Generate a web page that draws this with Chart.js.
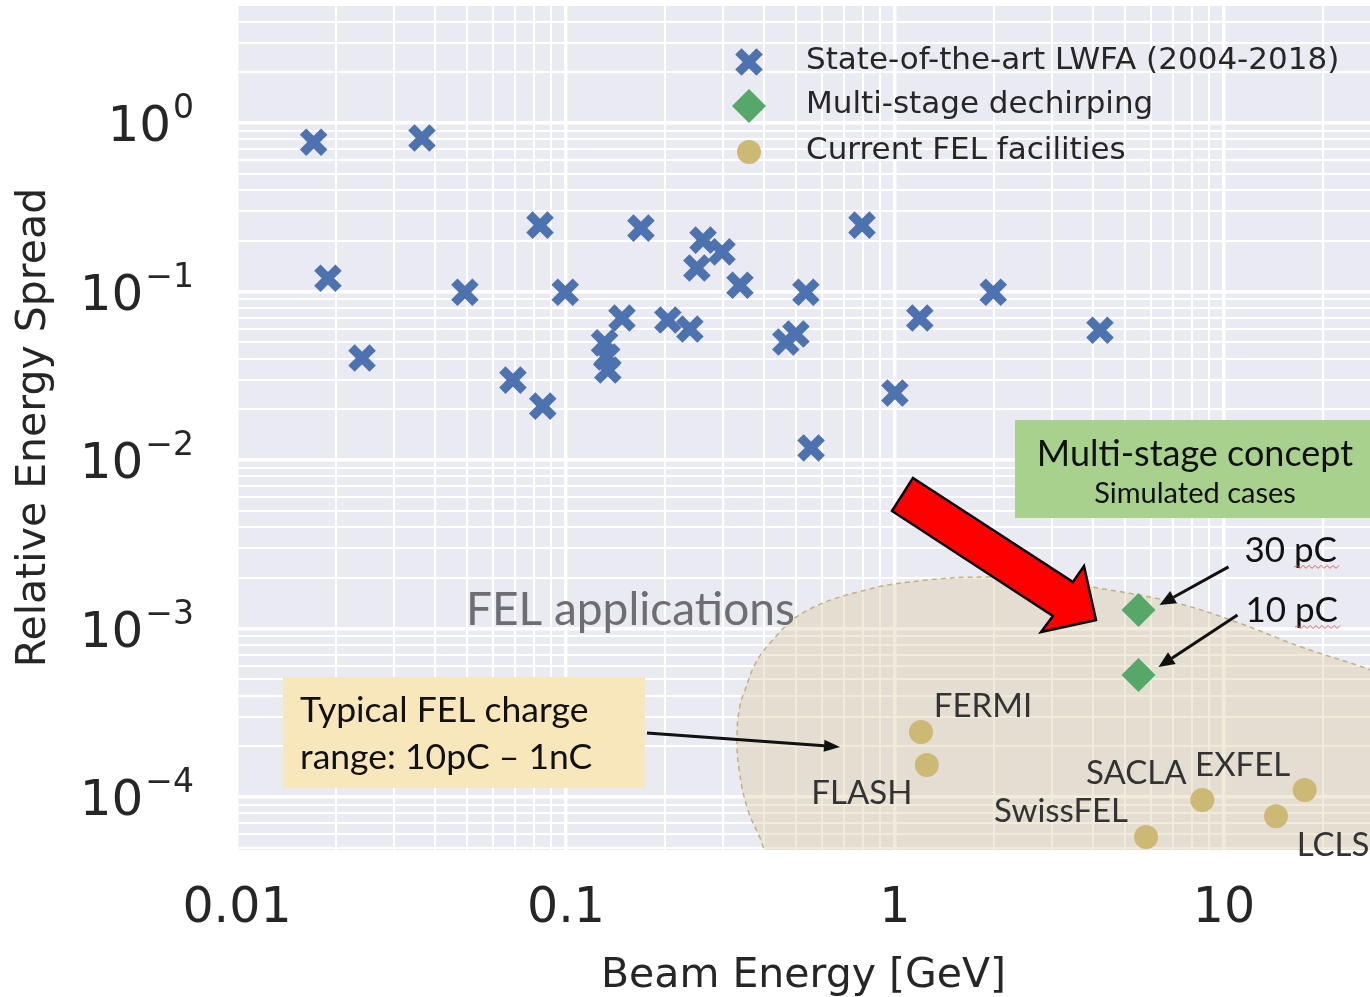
<!DOCTYPE html>
<html>
<head>
<meta charset="utf-8">
<title>Energy spread vs beam energy</title>
<script src="https://cdn.jsdelivr.net/npm/chart.js@4.4.1/dist/chart.umd.min.js"></script>
<style>
  html, body { margin: 0; padding: 0; background: #fff; }
  #wrap { width: 1370px; height: 997px; }
</style>
</head>
<body>
<div id="wrap"><canvas id="chart" width="1370" height="997"></canvas></div>
<script>
// LWFA results 2004-2018: beam energy [GeV] and relative energy spread
const lwfaEnergy = [0.0171, 0.0365, 0.0189, 0.0240, 0.0493, 0.0834, 0.0995, 0.069, 0.085,
                    0.131, 0.133, 0.134, 0.148, 0.169, 0.204, 0.238, 0.250, 0.261, 0.298,
                    0.338, 0.466, 0.500, 0.536, 0.556, 0.794, 1.00, 1.19, 1.99, 4.20];
const lwfaSpread = [0.77, 0.815, 0.120, 0.0403, 0.099, 0.248, 0.099, 0.0298, 0.0209,
                    0.0496, 0.0409, 0.0342, 0.0696, 0.238, 0.0678, 0.0599, 0.138, 0.202, 0.172,
                    0.109, 0.0502, 0.056, 0.099, 0.0118, 0.248, 0.025, 0.0696, 0.099, 0.059];

// multi-stage dechirping simulations
const dechirpEnergy = [5.5, 5.5];
const dechirpSpread = [1.29e-3, 5.3e-4];
const dechirpCharge = ['30 pC', '10 pC'];

// operating FEL facilities
const felNames  = ['FERMI', 'FLASH', 'SACLA', 'SwissFEL', 'EXFEL', 'LCLS'];
const felEnergy = [1.20, 1.25, 8.6, 5.8, 17.6, 14.4];
const felSpread = [2.43e-4, 1.55e-4, 9.6e-5, 5.8e-5, 1.10e-4, 7.7e-5];

// outline of the FEL application region (closed below the axes)
const regionEnergy = [0.42, 0.40, 0.357, 0.336, 0.331, 0.338, 0.350, 0.375, 0.417, 0.525, 0.81,
                      1.25, 1.88, 2.76, 4.0, 7.15, 11.1, 17.1, 27.8, 48, 48, 0.42];
const regionSpread = [2.4e-5, 4.85e-5, 8.4e-5, 1.45e-4, 2.33e-4, 3.5e-4, 4.3e-4, 6.1e-4, 8.2e-4,
                      1.24e-3, 1.69e-3, 1.94e-3, 2.02e-3, 1.94e-3, 1.76e-3, 1.42e-3, 1.08e-3,
                      7.8e-4, 5.7e-4, 3.8e-4, 2.4e-5, 2.4e-5];

const xTickValues = [0.01, 0.1, 1, 10];
const xTickLabels = ['0.01', '0.1', '1', '10'];
const yTickExponents = [0, -1, -2, -3, -4];

const BLUE = '#4c72b0', GREEN = '#55a868', GOLD = '#ccb974';
const TEXT = '#262626';
const CALIBRI = 'Lato, "Open Sans", sans-serif';

const pairs = (xs, ys) => xs.map((x, i) => ({ x, y: ys[i] }));

const isDecade = v => Math.abs(Math.log10(v) - Math.round(Math.log10(v))) < 1e-9;

// 1..9 x 10^n ticks so every minor grid line shows up
function logTicks(min, max) {
    const out = [];
    for (let e = Math.floor(Math.log10(min)); e <= Math.ceil(Math.log10(max)); e++) {
        for (let k = 1; k < 10; k++) {
            const v = parseFloat((k * Math.pow(10, e)).toPrecision(6));
            if (v >= min && v <= max) out.push({ value: v });
        }
    }
    return out;
}

// keep the plot box fixed, no extra room for tick labels
function noPadding(s) {
    s.paddingLeft = s.paddingRight = s.paddingTop = s.paddingBottom = 0;
}

function arrow(ctx, x1, y1, x2, y2, len, half) {
    const a = Math.atan2(y2 - y1, x2 - x1);
    const bx = x2 - Math.cos(a) * len, by = y2 - Math.sin(a) * len;
    ctx.beginPath();
    ctx.moveTo(x1, y1);
    ctx.lineTo(bx, by);
    ctx.stroke();
    ctx.beginPath();
    ctx.moveTo(x2, y2);
    ctx.lineTo(bx + Math.sin(a) * half, by - Math.cos(a) * half);
    ctx.lineTo(bx - Math.sin(a) * half, by + Math.cos(a) * half);
    ctx.closePath();
    ctx.fill();
}

function squiggle(ctx, x1, x2, y) {
    ctx.beginPath();
    ctx.moveTo(x1, y);
    for (let x = x1, up = true; x < x2; x += 3, up = !up) ctx.lineTo(x + 3, y + (up ? -1.5 : 1.5));
    ctx.stroke();
}

// plot background
const background = {
    id: 'background',
    beforeDraw(chart) {
        const { ctx, chartArea: a } = chart;
        ctx.save();
        ctx.fillStyle = '#fff';
        ctx.fillRect(0, 0, chart.width, chart.height);
        ctx.fillStyle = '#eaeaf2';
        ctx.fillRect(a.left, a.top, a.right - a.left, a.bottom - a.top);
        ctx.restore();
    }
};

// 10^n labels with raised exponents
const yLabels = {
    id: 'yLabels',
    afterDraw(chart) {
        const { ctx } = chart;
        const y = chart.scales.y;
        ctx.save();
        ctx.fillStyle = TEXT;
        ctx.textAlign = 'right';
        ctx.textBaseline = 'alphabetic';
        yTickExponents.forEach(e => {
            const py = y.getPixelForValue(Math.pow(10, e));
            const sup = e === 0 ? '0' : '\u2212' + Math.abs(e);
            ctx.font = '33px "DejaVu Sans"';
            const w = ctx.measureText(sup).width;
            ctx.fillText(sup, 194, py - 5);
            ctx.font = '50px "DejaVu Sans"';
            ctx.fillText('10', 192 - w, py + 18);
        });
        ctx.restore();
    }
};

// legend in the upper right of the plot
const legendBox = {
    id: 'legendBox',
    afterDraw(chart) {
        const { ctx } = chart;
        const rows = [62, 106, 152];
        ctx.save();
        chart.data.datasets.slice(0, 3).forEach((ds, i) => {
            ctx.fillStyle = ds.backgroundColor;
            ctx.strokeStyle = ds.borderColor || ds.backgroundColor;
            ctx.lineWidth = ds.pointBorderWidth;
            Chart.helpers.drawPoint(ctx, {
                pointStyle: ds.pointStyle, radius: ds.pointRadius,
                borderWidth: ds.pointBorderWidth, rotation: 0
            }, 749, rows[i]);
            ctx.fillStyle = TEXT;
            ctx.font = '31px "DejaVu Sans"';
            ctx.textAlign = 'left';
            ctx.textBaseline = 'middle';
            ctx.fillText(ds.label, 806, rows[i] - 1);
        });
        ctx.restore();
    }
};

// labels, callouts and text boxes drawn over the plot
const notes = {
    id: 'notes',
    afterDraw(chart) {
        const { ctx } = chart;
        const { x, y } = chart.scales;
        ctx.save();

        // FEL region caption
        ctx.fillStyle = '#6e6e72';
        ctx.font = `46px ${CALIBRI}`;
        ctx.textAlign = 'left';
        ctx.textBaseline = 'alphabetic';
        ctx.fillText('FEL applications', 466, 625);

        // facility names next to their points
        const felOffsets = [[62, -26], [-65, 28], [-66, -27], [-85, -26], [-62, -25], [57, 29]];
        ctx.fillStyle = '#333';
        ctx.font = `33px ${CALIBRI}`;
        ctx.textAlign = 'center';
        ctx.textBaseline = 'middle';
        felNames.forEach((name, i) => {
            const px = x.getPixelForValue(felEnergy[i]);
            const py = y.getPixelForValue(felSpread[i]);
            ctx.fillText(name, px + felOffsets[i][0], py + felOffsets[i][1]);
        });

        // charge callouts for the simulated cases
        const callouts = [
            { label: [106, -48], tail: [90, -43], tip: [21, -5] },
            { label: [107, -53], tail: [99, -60], tip: [20, -8] }
        ];
        ctx.textAlign = 'left';
        ctx.textBaseline = 'alphabetic';
        dechirpCharge.forEach((txt, i) => {
            const px = x.getPixelForValue(dechirpEnergy[i]);
            const py = y.getPixelForValue(dechirpSpread[i]);
            const c = callouts[i];
            ctx.fillStyle = '#111';
            ctx.font = `35px ${CALIBRI}`;
            ctx.fillText(txt, px + c.label[0], py + c.label[1]);
            ctx.strokeStyle = '#111';
            ctx.lineWidth = 3;
            arrow(ctx, px + c.tail[0], py + c.tail[1], px + c.tip[0], py + c.tip[1], 16, 7);
            const w0 = ctx.measureText(txt.slice(0, 3)).width;
            const w1 = ctx.measureText(txt).width;
            ctx.strokeStyle = '#e05a5a';
            ctx.lineWidth = 1;
            squiggle(ctx, px + c.label[0] + w0, px + c.label[0] + w1, py + c.label[1] + 5);
        });

        // multi-stage concept box
        ctx.fillStyle = '#a9d18e';
        ctx.fillRect(1015, 420, 360, 98);
        ctx.fillStyle = '#111';
        ctx.textAlign = 'center';
        ctx.font = `36px ${CALIBRI}`;
        ctx.fillText('Multi-stage concept', 1195, 466);
        ctx.font = `29px ${CALIBRI}`;
        ctx.fillText('Simulated cases', 1195, 503);

        // typical charge box and its pointer
        ctx.fillStyle = '#f9e7bc';
        ctx.fillRect(283, 677, 362, 111);
        ctx.fillStyle = '#111';
        ctx.textAlign = 'left';
        ctx.font = `35.5px ${CALIBRI}`;
        ctx.fillText('Typical FEL charge', 300, 722);
        ctx.fillText('range: 10pC \u2013 1nC', 300, 769);
        ctx.strokeStyle = '#111';
        ctx.lineWidth = 3;
        arrow(ctx, 647, 733, 840, 747, 16, 6);

        // big red pointer towards the simulated cases
        ctx.beginPath();
        [[913, 478], [1073, 582], [1084, 566], [1096, 620], [1041, 632], [1053, 616], [892, 511]]
            .forEach(([px, py], i) => i ? ctx.lineTo(px, py) : ctx.moveTo(px, py));
        ctx.closePath();
        ctx.fillStyle = '#ff0000';
        ctx.fill();
        ctx.strokeStyle = '#000';
        ctx.lineWidth = 2.5;
        ctx.lineJoin = 'miter';
        ctx.stroke();

        ctx.restore();
    }
};

const gridOptions = {
    color: '#ffffff',
    lineWidth: c => (c.tick && isDecade(c.tick.value)) ? 3.5 : 2,
    drawTicks: false
};

new Chart(document.getElementById('chart'), {
    type: 'scatter',
    data: {
        datasets: [
            {
                label: 'State-of-the-art LWFA (2004-2018)',
                data: pairs(lwfaEnergy, lwfaSpread),
                pointStyle: 'crossRot',
                pointRadius: 15,
                pointBorderWidth: 9,
                borderColor: BLUE,
                backgroundColor: BLUE,
                order: 1
            },
            {
                label: 'Multi-stage dechirping',
                data: pairs(dechirpEnergy, dechirpSpread),
                pointStyle: 'rectRot',
                pointRadius: 17,
                pointBorderWidth: 0,
                backgroundColor: GREEN,
                order: 0
            },
            {
                label: 'Current FEL facilities',
                data: pairs(felEnergy, felSpread),
                pointStyle: 'circle',
                pointRadius: 12,
                pointBorderWidth: 0,
                backgroundColor: GOLD,
                order: 0
            },
            {
                label: 'FEL applications',
                data: pairs(regionEnergy, regionSpread),
                showLine: true,
                fill: 'shape',
                tension: 0.4,
                capBezierPoints: false,
                pointRadius: 0,
                pointHitRadius: 0,
                borderColor: 'rgba(190, 170, 115, 0.9)',
                borderWidth: 1.5,
                borderDash: [5, 4],
                backgroundColor: 'rgba(214, 200, 150, 0.35)',
                clip: 0,
                order: 10
            }
        ]
    },
    options: {
        responsive: false,
        animation: false,
        events: [],
        layout: { autoPadding: false, padding: { top: 5, right: 0, bottom: 0, left: 0 } },
        plugins: {
            legend: { display: false },
            tooltip: { enabled: false }
        },
        scales: {
            x: {
                type: 'logarithmic',
                min: 0.01,
                max: 27.8,
                afterBuildTicks: s => { s.ticks = logTicks(s.min, s.max); },
                afterFit: s => { s.height = 147; noPadding(s); },
                grid: gridOptions,
                border: { display: false },
                ticks: {
                    autoSkip: false,
                    maxRotation: 0,
                    padding: 30,
                    color: TEXT,
                    font: { family: 'DejaVu Sans', size: 49 },
                    callback: v => {
                        const i = xTickValues.indexOf(v);
                        return i >= 0 ? xTickLabels[i] : '';
                    }
                },
                title: {
                    display: true,
                    text: 'Beam Energy [GeV]',
                    color: TEXT,
                    font: { family: 'DejaVu Sans', size: 41, lineHeight: 1 },
                    padding: { top: 0, bottom: 0 }
                }
            },
            y: {
                type: 'logarithmic',
                min: 4.85e-5,
                max: 5.02,
                afterBuildTicks: s => { s.ticks = logTicks(s.min, s.max); },
                afterFit: s => { s.width = 237; noPadding(s); },
                grid: gridOptions,
                border: { display: false },
                ticks: { display: false },
                title: {
                    display: true,
                    text: 'Relative Energy Spread',
                    color: TEXT,
                    font: { family: 'DejaVu Sans', size: 41, lineHeight: 1 },
                    padding: { top: 14, bottom: 0 }
                }
            }
        }
    },
    plugins: [background, yLabels, legendBox, notes]
});
</script>
</body>
</html>
